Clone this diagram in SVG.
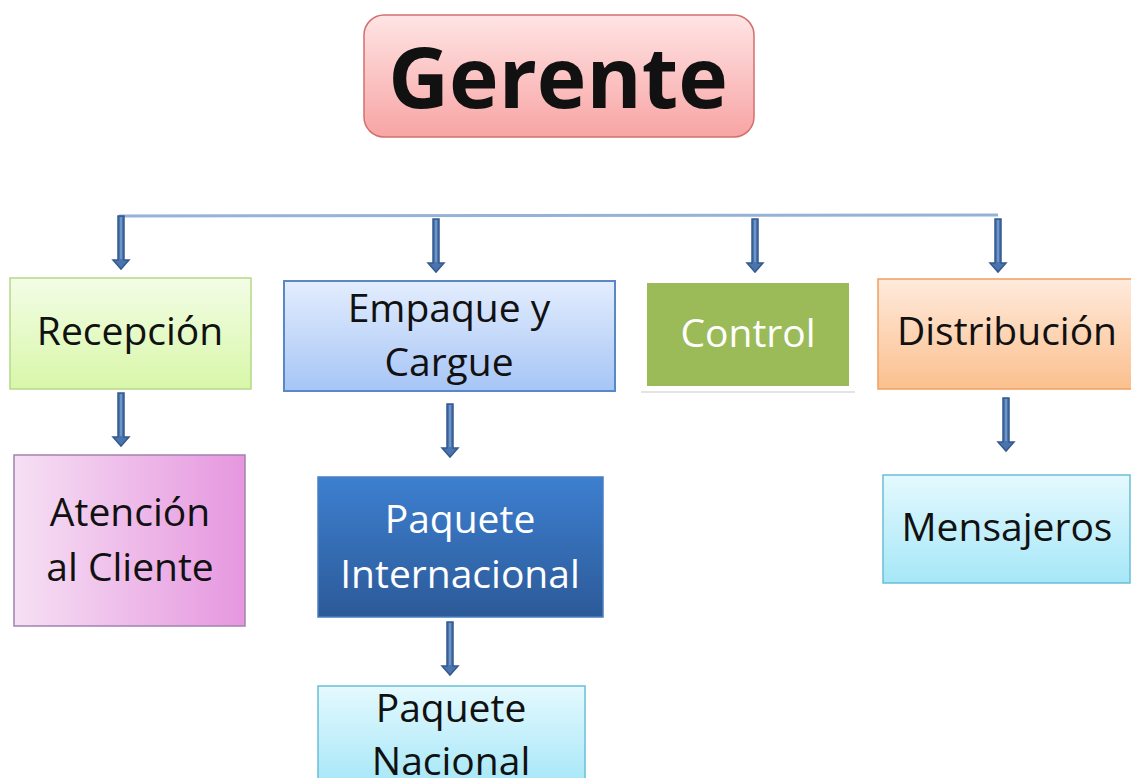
<svg xmlns="http://www.w3.org/2000/svg" width="1131" height="778" viewBox="0 0 1131 778">
<style>
.t{font-family:"Open Sans","Noto Sans",sans-serif;font-size:39px;text-anchor:middle;fill:#111}
.w{fill:#fff}
.arr{fill:#4a74ad;stroke:#34598f;stroke-width:1.5}
.hl{fill:#6f94c8}
</style>
<defs>
<linearGradient id="gPink" x1="0" y1="0" x2="0" y2="1"><stop offset="0" stop-color="#ffe4e4"/><stop offset="1" stop-color="#f8a4a4"/></linearGradient>
<linearGradient id="gGreen" x1="0" y1="0" x2="0" y2="1"><stop offset="0" stop-color="#f3fde6"/><stop offset="1" stop-color="#d8f7a9"/></linearGradient>
<linearGradient id="gBlueL" x1="0" y1="0" x2="0" y2="1"><stop offset="0" stop-color="#e3edfd"/><stop offset="1" stop-color="#a6c5f6"/></linearGradient>
<linearGradient id="gOrange" x1="0" y1="0" x2="0" y2="1"><stop offset="0" stop-color="#ffeadc"/><stop offset="1" stop-color="#fbc08e"/></linearGradient>
<linearGradient id="gViolet" x1="0" y1="0" x2="1" y2="0"><stop offset="0" stop-color="#f6e0f4"/><stop offset="1" stop-color="#e697df"/></linearGradient>
<linearGradient id="gBlueD" x1="0" y1="0" x2="0" y2="1"><stop offset="0" stop-color="#3d7fd0"/><stop offset="1" stop-color="#2c5a98"/></linearGradient>
<linearGradient id="gCyan" x1="0" y1="0" x2="0" y2="1"><stop offset="0" stop-color="#e4f9fe"/><stop offset="1" stop-color="#a6e7f8"/></linearGradient>
<g id="arrow">
<path class="arr" d="M-3,0 H3 V44 H8 L0,53 L-8,44 H-3 Z"/>
<rect class="hl" x="-1" y="1" width="2" height="42"/>
</g>
</defs>

<g id="connectors">
<line x1="119" y1="216" x2="998" y2="215" stroke="#95b3d7" stroke-width="3"/>
<use href="#arrow" x="121" y="216"/>
<use href="#arrow" x="436" y="219"/>
<use href="#arrow" x="755" y="219"/>
<use href="#arrow" x="998" y="219"/>
<use href="#arrow" x="121" y="393"/>
<use href="#arrow" x="450" y="404"/>
<use href="#arrow" x="450" y="622"/>
<use href="#arrow" x="1006" y="398"/>
</g>

<g id="gerente">
<rect x="364" y="15" width="390" height="122" rx="20" fill="url(#gPink)" stroke="#d46f6f" stroke-width="1.5"/>
<text class="t" x="558" y="108" style="font-size:84px;font-weight:bold" fill="#000">Gerente</text>
</g>

<g id="recepcion">
<rect x="10" y="278" width="241" height="111" fill="url(#gGreen)" stroke="#b5d88a" stroke-width="1.5"/>
<text class="t" x="130" y="345">Recepción</text>
</g>

<g id="empaque">
<rect x="284" y="281" width="331" height="110" fill="url(#gBlueL)" stroke="#5a88c4" stroke-width="2"/>
<text class="t" x="449" y="322">Empaque y</text>
<text class="t" x="449" y="376">Cargue</text>
</g>

<g id="control">
<line x1="641" y1="392" x2="855" y2="392" stroke="#e4e4e4" stroke-width="2"/>
<rect x="647" y="283" width="202" height="103" fill="#9bbb59"/>
<text class="t w" x="748" y="347">Control</text>
</g>

<g id="distribucion">
<rect x="878" y="279" width="256" height="110" fill="url(#gOrange)" stroke="#f0a060" stroke-width="1.5"/>
<text class="t" x="1007" y="345">Distribución</text>
</g>

<g id="atencion">
<rect x="14" y="455" width="231" height="171" fill="url(#gViolet)" stroke="#a182b0" stroke-width="1.5"/>
<text class="t" x="130" y="526">Atención</text>
<text class="t" x="130" y="581">al Cliente</text>
</g>

<g id="internacional">
<rect x="318" y="477" width="285" height="140" fill="url(#gBlueD)" stroke="#4a7fc0" stroke-width="1.5"/>
<text class="t w" x="460" y="533">Paquete</text>
<text class="t w" x="460" y="588">Internacional</text>
</g>

<g id="nacional">
<rect x="318" y="686" width="267" height="100" fill="url(#gCyan)" stroke="#68bfd8" stroke-width="1.5"/>
<text class="t" x="451" y="722">Paquete</text>
<text class="t" x="451" y="775">Nacional</text>
</g>

<g id="mensajeros">
<rect x="883" y="475" width="247" height="108" fill="url(#gCyan)" stroke="#68bfd8" stroke-width="1.5"/>
<text class="t" x="1007" y="541">Mensajeros</text>
</g>
</svg>
